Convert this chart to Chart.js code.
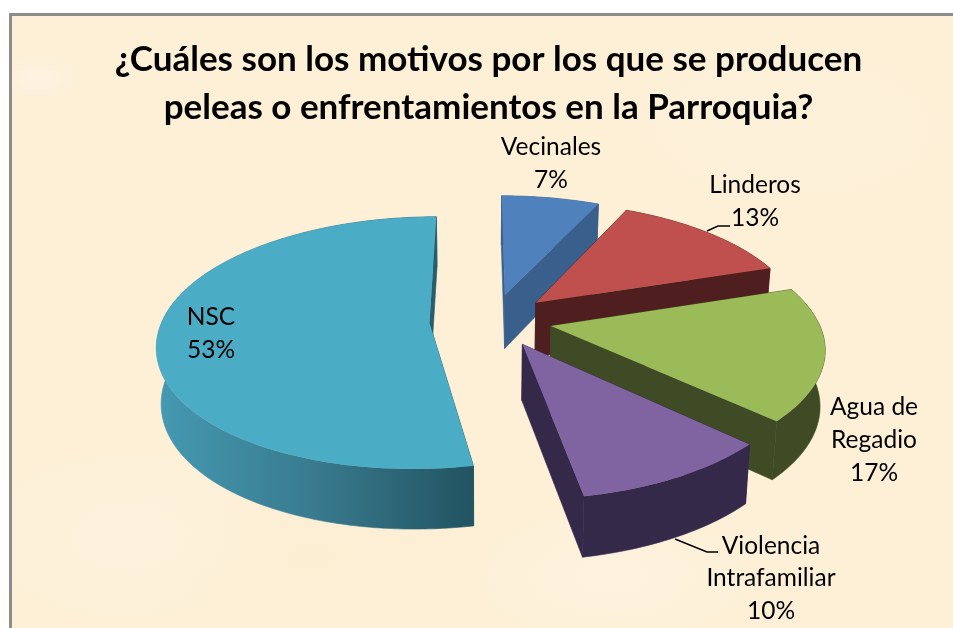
<!DOCTYPE html>
<html lang="es">
<head>
<meta charset="utf-8">
<style>
html,body{margin:0;padding:0;background:#fff;width:953px;height:628px;overflow:hidden}
#frame{position:absolute;left:9px;top:13px;width:944px;height:615px;box-sizing:border-box;border-top:3px solid #8c8c8c;border-left:3px solid #8c8c8c;
background:
 radial-gradient(ellipse 45px 22px at 25px 62px,#fef2e3 0,rgba(254,242,227,0) 100%),
 radial-gradient(ellipse 160px 90px at 120px 520px,#fff2dd 0,rgba(255,242,221,0) 100%),
 radial-gradient(ellipse 140px 70px at 600px 560px,#fff3df 0,rgba(255,243,223,0) 100%),
 radial-gradient(ellipse 180px 90px at 780px 110px,#fef1da 0,rgba(254,241,218,0) 100%),
 radial-gradient(ellipse 200px 100px at 300px 540px,#fbeed3 0,rgba(251,238,211,0) 100%),
 radial-gradient(ellipse 170px 100px at 860px 280px,#fcefd6 0,rgba(252,239,214,0) 100%),
 #fdf0d7}
canvas{position:absolute;left:0;top:0}
</style>
<script src="https://cdn.jsdelivr.net/npm/chart.js@4"></script>
</head>
<body>
<div id="frame"></div>
<canvas id="c" width="953" height="628"></canvas>
<script>
const categories = ['Vecinales', 'Linderos', 'Agua de Regadio', 'Violencia Intrafamiliar', 'NSC'];
const values = [7, 13, 17, 10, 53];
const percentLabels = ['7%', '13%', '17%', '10%', '53%'];
const titleLines = ['¿Cuáles son los motivos por los que se producen', 'peleas o enfrentamientos en la Parroquia?'];
const topColors = ['#4F81BD', '#C0504D', '#9BBB59', '#8064A2', '#4BACC6'];
const wallColors = ['#395F8C', '#4E1F1E', '#3F4B25', '#35294A', '#2F6F82'];
const explode = [48, 48, 48, 48, 52];

const view = {cx: 493, cy: 320, vx: 480, a: 267, b: 122, p: 0.159, depth: 55, depthFront: 5, shrink: 0.985, frontSkew: 6};
const FONT = 'Lato, Carlito, sans-serif';

function project(X, Y) {
  const w = 1 / (1 - view.p * Y);
  const f = Y > 0 ? view.frontSkew * Y * Y : 0;
  return [view.vx + (view.a * X + view.cx - view.vx) * w - f, view.cy + view.b * Y * w];
}
function lower(pt, Y) {
  return [view.vx + (pt[0] - view.vx) * view.shrink, pt[1] + view.depth + view.depthFront * Y];
}

class Arc3D extends Chart.ArcElement {
  static id = 'arc3d';
  static defaults = Chart.ArcElement.defaults;
  draw(ctx) {
    const {startAngle, endAngle, outerRadius} = this.getProps(['startAngle', 'endAngle', 'outerRadius']);
    const o = this.options;
    const mid = (startAngle + endAngle) / 2;
    const d = (o.offset || 0) / outerRadius;
    const ox = Math.cos(mid) * d, oy = Math.sin(mid) * d;
    const top = [], bot = [];
    const add = (X, Y) => { const t = project(X, Y); top.push(t); bot.push(lower(t, Y)); };
    add(ox, oy);
    const n = Math.max(6, Math.ceil((endAngle - startAngle) / 0.02));
    for (let i = 0; i <= n; i++) {
      const t = startAngle + (endAngle - startAngle) * i / n;
      add(ox + Math.cos(t), oy + Math.sin(t));
    }
    const poly = (pts, edge) => {
      ctx.beginPath();
      pts.forEach((p, i) => i ? ctx.lineTo(p[0], p[1]) : ctx.moveTo(p[0], p[1]));
      ctx.closePath();
      ctx.fill();
      if (edge) ctx.stroke();
    };
    ctx.save();
    ctx.lineJoin = 'round';
    ctx.lineWidth = 0.6;
    ctx.fillStyle = o.borderColor;
    ctx.strokeStyle = o.borderColor;
    const last = top.length - 1;
    poly([top[0], top[1], bot[1], bot[0]], true);
    poly([top[0], top[last], bot[last], bot[0]], true);
    poly(top.slice(1).concat(bot.slice(1).reverse()), true);
    ctx.fillStyle = o.backgroundColor;
    poly(top, false);
    ctx.restore();
  }
}
class Pie3DController extends Chart.PieController {
  static id = 'pie3d';
  static defaults = {dataElementType: 'arc3d'};
}
Chart.register(Arc3D, Pie3DController);

const labelLayout = [
  {lines: ['Vecinales'], x: 551, y: 147, lh: 33},
  {lines: ['Linderos'], x: 755, y: 185, lh: 33},
  {lines: ['Agua de', 'Regadio'], x: 874, y: 407, lh: 33},
  {lines: ['Violencia', 'Intrafamiliar'], x: 771, y: 546, lh: 32.5},
  {lines: ['NSC'], x: 211, y: 317, lh: 33}
];
const leaders = [
  [[707, 231], [718, 226], [730, 226]],
  [[675, 539], [707, 552], [718, 552]]
];

const labelsPlugin = {
  id: 'labels3d',
  afterDraw(chart) {
    const ctx = chart.ctx;
    ctx.save();
    ctx.strokeStyle = '#000';
    ctx.lineWidth = 1.4;
    leaders.forEach(l => {
      ctx.beginPath();
      l.forEach((p, i) => i ? ctx.lineTo(p[0], p[1]) : ctx.moveTo(p[0], p[1]));
      ctx.stroke();
    });
    ctx.fillStyle = '#000';
    ctx.font = '24.5px ' + FONT;
    ctx.textAlign = 'center';
    ctx.textBaseline = 'middle';
    labelLayout.forEach((b, i) => {
      const all = b.lines.concat(percentLabels[i]);
      all.forEach((t, k) => ctx.fillText(t, b.x, b.y + k * b.lh));
    });
    ctx.restore();
  }
};

new Chart(document.getElementById('c'), {
  type: 'pie3d',
  data: {
    labels: categories,
    datasets: [{
      data: values,
      backgroundColor: topColors,
      borderWidth: 0,
      offset: explode,
      borderColor: c => {
        if (c.dataIndex !== 4) return wallColors[c.dataIndex];
        const g = c.chart.ctx.createLinearGradient(165, 0, 472, 0);
        g.addColorStop(0, '#4498B0');
        g.addColorStop(0.5, '#38798D');
        g.addColorStop(1, '#225462');
        return g;
      }
    }]
  },
  options: {
    responsive: false,
    animation: false,
    layout: {padding: {left: 24}},
    plugins: {
      legend: {display: false},
      tooltip: {enabled: false},
      title: {
        display: true,
        text: titleLines,
        color: '#000',
        font: {family: FONT, size: 35, weight: 'bold', lineHeight: 1.37},
        padding: {top: 36, bottom: 8}
      }
    }
  },
  plugins: [labelsPlugin]
});
</script>
</body>
</html>
